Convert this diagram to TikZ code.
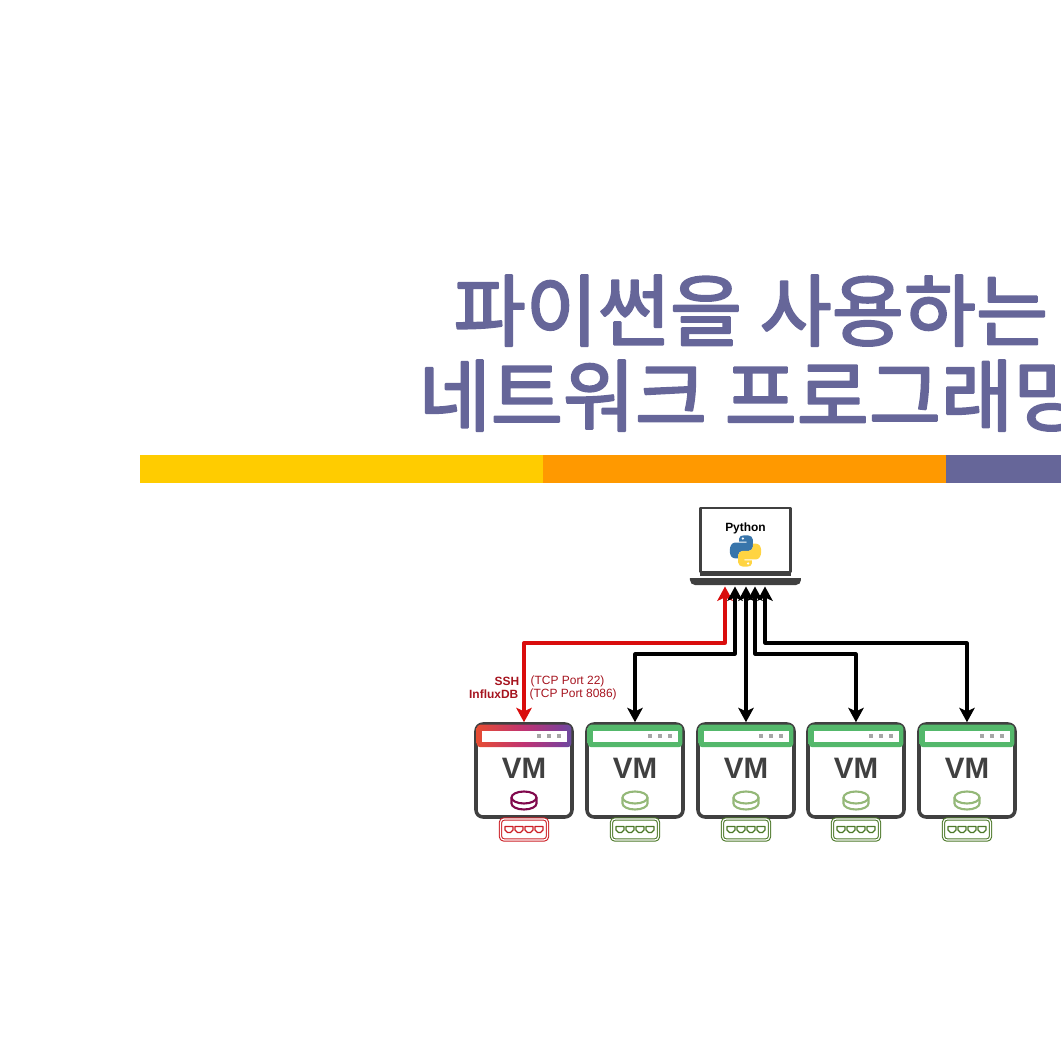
\documentclass[tikz,border=0pt]{standalone}
\usepackage{xcolor}
\usepackage{fontspec}
\usepackage{tikz}
\usetikzlibrary{calc}
\usetikzlibrary{arrows.meta}
\setmainfont{Liberation Sans}
\newfontfamily\cjk[FakeBold=2.6]{Noto Sans CJK KR}
\definecolor{ttpurple}{rgb}{0.4,0.4,0.6}
\definecolor{ffcc00}{rgb}{1.,0.8,0.}
\definecolor{ff9900}{rgb}{1.,0.6,0.}
\definecolor{dkgrey}{rgb}{0.25,0.25,0.25}
\definecolor{lnred}{rgb}{0.85,0.05,0.05}
\definecolor{lblred}{rgb}{0.65,0.08,0.12}
\definecolor{prtred}{rgb}{0.8,0.12,0.15}
\definecolor{prtgrn}{rgb}{0.3,0.47,0.16}
\definecolor{dskred}{rgb}{0.5,0.03,0.3}
\definecolor{dskgrn}{rgb}{0.58,0.72,0.47}
\definecolor{hdrgrn}{rgb}{0.33,0.72,0.42}
\definecolor{hdrtl}{rgb}{0.2,0.58,0.5}
\definecolor{pyblue}{rgb}{0.22,0.46,0.67}
\definecolor{pyyell}{rgb}{1.,0.83,0.26}
\definecolor{rba}{rgb}{0.98,0.72,0.15}
\definecolor{rbb}{rgb}{0.9,0.3,0.2}
\definecolor{rbc}{rgb}{0.75,0.2,0.45}
\definecolor{rbd}{rgb}{0.5,0.25,0.6}
\definecolor{rbe}{rgb}{0.25,0.4,0.65}
\definecolor{rbf}{rgb}{0.2,0.6,0.55}
\pgfdeclarehorizontalshading{rainbowbar}{100bp}{color(0bp)=(rba);color(10bp)=(rba);color(25bp)=(rbb);color(50bp)=(rbc);color(70bp)=(rbd);color(85bp)=(rbe);color(100bp)=(rbf)}
\pgfdeclarehorizontalshading{greenbar}{100bp}{color(0bp)=(hdrgrn);color(75bp)=(hdrgrn);color(100bp)=(hdrtl)}
\tikzset{
  vmbox/.style={draw=dkgrey,line width=1pt,rounded corners=2pt,minimum width=.96cm,minimum height=.93cm,inner sep=0pt,text depth=.035cm,text=dkgrey,font=\fontsize{8.4}{9}\selectfont\bfseries},
  portbox/.style={draw=#1,double=white,double distance=.35pt,line width=.3pt,rounded corners=1pt,minimum width=.47cm,minimum height=.21cm,inner sep=0pt},
  hdrrainbow/.style={shading=rainbowbar},
  hdrgreen/.style={shading=greenbar},
  smalltext/.style={font=\fontsize{3.4}{4}\selectfont,text=lblred,inner sep=0pt},
  boldtext/.style={smalltext,font=\fontsize{3.4}{4}\selectfont\bfseries},
  titletext/.style={anchor=base west,inner sep=0pt,text=ttpurple,font=\fontsize{22.3}{26}\selectfont\cjk}
}
\begin{document}
\begin{tikzpicture}[line cap=round,line join=round,>={Stealth[length=4.1pt,width=4.4pt,inset=1pt]},x=1.0cm,y=1.0cm]
\useasboundingbox (0.,0.) rectangle (10.61,10.61);
\clip (0.,0.) rectangle (10.61,10.61);
\fill [white] (0.,0.) rectangle (10.61,10.61);
% title and bar
\node (line1) [titletext] at (4.53,7.21) {파이썬을 사용하는};
\node (line2) [titletext] at (4.18,6.36) {네트워크 프로그래밍};
\fill [ffcc00] (1.40,5.78) rectangle (5.43,6.06);
\fill [ff9900] (5.43,5.78) rectangle (9.46,6.06);
\fill [ttpurple] (9.46,5.78) rectangle (10.61,6.06);
% laptop
\node (screen) [draw=dkgrey,line width=.7pt,minimum width=.9cm,minimum height=.64cm,inner sep=0pt] at (7.455,5.21) {};
\fill [dkgrey] (7.00,4.90) rectangle (7.91,4.85);
\fill [dkgrey] (6.90,4.83) -- (8.01,4.83) -- (8.01,4.81) arc (0:-90:.05) -- (6.95,4.76) arc (-90:-180:.05) -- cycle;
\coordinate (base) at (7.46,4.745);
\node (pytext) [boldtext,text=black] at (7.455,5.33) {Python};
% python logo
\begin{scope}[shift={(7.455,5.10)},x=.0105cm,y=.0105cm]
\fill [pyblue] (-6,9) -- (-6,12) .. controls (-6,14) and (-4,15) .. (-1,15) -- (2,15) .. controls (5,15) and (7,13) .. (7,11) -- (7,4) .. controls (7,2) and (5,0) .. (3,0) -- (-3,0) .. controls (-5,0) and (-7,-2) .. (-7,-4) -- (-7,-7) -- (-10,-7) .. controls (-13,-7) and (-15,-4) .. (-15,0) .. controls (-15,5) and (-13,8) .. (-10,8) -- (1,8) -- (1,9) -- cycle;
\fill [white] (-2.5,11.8) circle (1.2);
\fill [pyyell] (6,-9) -- (6,-12) .. controls (6,-14) and (4,-15) .. (1,-15) -- (-2,-15) .. controls (-5,-15) and (-7,-13) .. (-7,-11) -- (-7,-4) .. controls (-7,-2) and (-5,0) .. (-3,0) -- (3,0) .. controls (5,0) and (7,2) .. (7,4) -- (7,7) -- (10,7) .. controls (13,7) and (15,4) .. (15,0) .. controls (15,-5) and (13,-8) .. (10,-8) -- (-1,-8) -- (-1,-9) -- cycle;
\fill [white] (2.5,-11.8) circle (1.2);
\end{scope}
% vms
\foreach \i/\x/\hdr/\prtcol/\dskcol in {1/5.24/hdrrainbow/prtred/dskred,2/6.35/hdrgreen/prtgrn/dskgrn,3/7.46/hdrgreen/prtgrn/dskgrn,4/8.56/hdrgreen/prtgrn/dskgrn,5/9.67/hdrgreen/prtgrn/dskgrn}{
  \node (vm\i) [vmbox] at (\x,2.905) {VM};
  \node (port\i) [portbox=\prtcol] at (\x,2.315) {};
  \path [\hdr,rounded corners=1pt] ($(vm\i.north west)+(.025,-.025)$) rectangle ($(vm\i.north east)+(-.025,-.25)$);
  \fill [white] ($(vm\i.north west)+(.075,-.085)$) rectangle ($(vm\i.north east)+(-.065,-.195)$);
  \foreach \d in {.145,.245,.345}
    \fill [gray!70] ($(vm\i.north east)+(-\d-.02,-.12)$) rectangle ($(vm\i.north east)+(-\d+.02,-.16)$);
  % disk
  \draw [\dskcol,line width=.6pt] (\x,2.635) ellipse (.125 and .06);
  \draw [\dskcol,line width=.6pt] (\x-.125,2.635) -- (\x-.125,2.575) arc (180:360:.125 and .06) -- (\x+.125,2.635);
  % ports
  \foreach \p in {-.15,-.05,.05,.15}
    \draw [\prtcol,line width=.4pt] (\x+\p-.04,2.345) -- (\x+\p+.04,2.345) -- (\x+\p+.04,2.31) -- (\x+\p+.015,2.285) -- (\x+\p-.015,2.285) -- (\x+\p-.04,2.31) -- cycle;
}
% levels
\coordinate (high) at (0.,4.18);
\coordinate (low) at (0.,4.07);
\coordinate (in1) at ($(base)+(-.21,0)$);
\coordinate (in2) at ($(base)+(-.11,0)$);
\coordinate (in3) at ($(base)+(0,0)$);
\coordinate (in4) at ($(base)+(.09,0)$);
\coordinate (in5) at ($(base)+(.19,0)$);
% links
\draw [<->,line width=.95pt,color=lnred] (in1) -- (in1 |- high) -- (vm1.north |- high) -- (vm1.north);
\draw [<->,line width=.9pt,color=black] (in2) -- (in2 |- low) -- (vm2.north |- low) -- (vm2.north);
\draw [<->,line width=.9pt,color=black] (in3) -- (vm3.north);
\draw [<->,line width=.9pt,color=black] (in4) -- (in4 |- low) -- (vm4.north |- low) -- (vm4.north);
\draw [<->,line width=.9pt,color=black] (in5) -- (in5 |- high) -- (vm5.north |- high) -- (vm5.north);
% labels
\node (ssh) [boldtext,anchor=east] at (5.20,3.80) {SSH};
\node (influx) [boldtext,anchor=east] at (5.19,3.67) {InfluxDB};
\node (sshport) [smalltext,anchor=west] at (5.30,3.80) {(TCP Port 22)};
\node (influxport) [smalltext,anchor=west] at (5.29,3.67) {(TCP Port 8086)};
\end{tikzpicture}
\end{document}
